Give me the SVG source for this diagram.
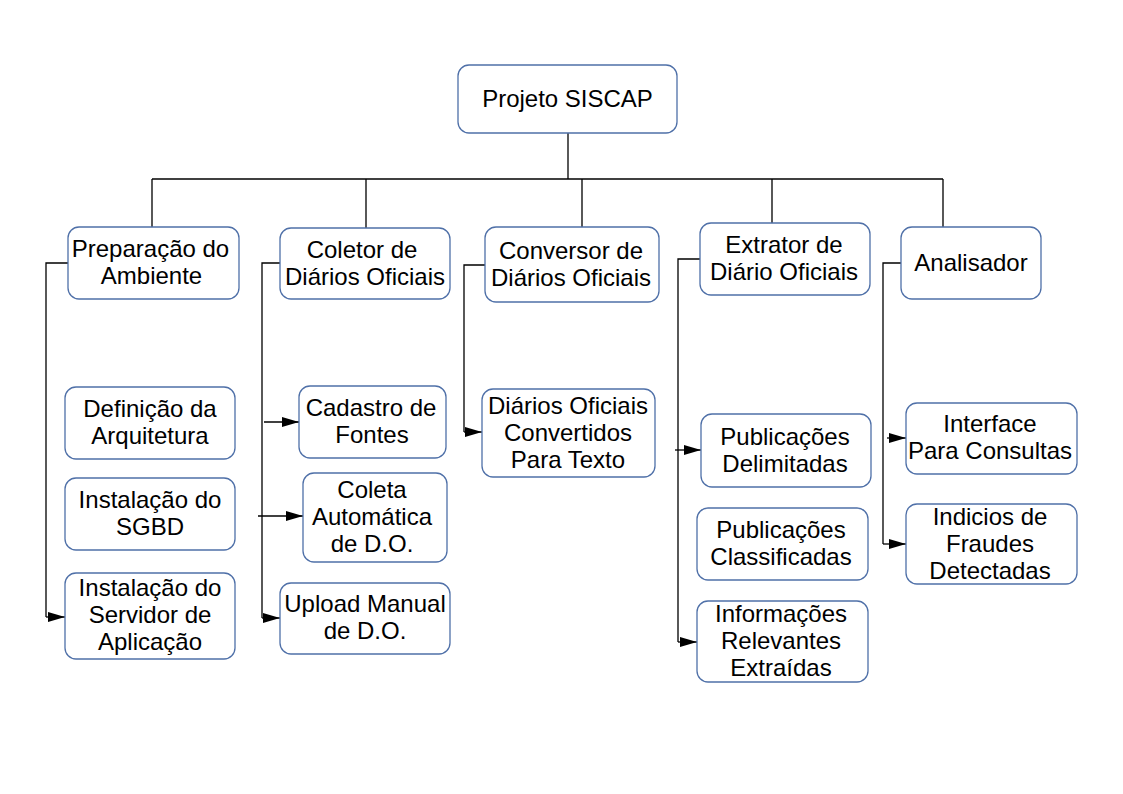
<svg xmlns="http://www.w3.org/2000/svg" width="1123" height="794" viewBox="0 0 1123 794">
<style>
.box{fill:#ffffff;stroke:#4f70a8;stroke-width:1.3}
.lbl{font-family:"Liberation Sans",Arial,sans-serif;font-size:24px;fill:#000;text-anchor:middle}
.con{fill:none;stroke:#000;stroke-width:1.3}
.arr{fill:none;stroke:#000;stroke-width:1.3;marker-end:url(#ah)}
</style>
<defs>
<marker id="ah" markerUnits="userSpaceOnUse" markerWidth="18" markerHeight="11" refX="17" refY="5" orient="auto">
<path d="M0,0 L17,5 L0,10 z" fill="#000"/>
</marker>
</defs>
<rect width="1123" height="794" fill="#fff"/>
<g id="connectors">
<path class="con" d="M568,133 V179"/>
<path class="con" d="M152,179 H943"/>
<path class="con" d="M152,179 V227 M366,179 V228 M582,179 V227 M772,179 V223 M943,179 V227"/>
<path class="con" d="M68,263 H46 V617"/>
<path class="arr" d="M46,617 H65"/>
<path class="con" d="M280,263 H262 V618"/>
<path class="arr" d="M264,422 H299"/>
<path class="arr" d="M258,516 H303"/>
<path class="arr" d="M262,618 H280"/>
<path class="con" d="M485,265 H464 V432"/>
<path class="arr" d="M464,432 H482"/>
<path class="con" d="M700,259 H678 V642"/>
<path class="arr" d="M675,450 H701"/>
<path class="arr" d="M678,642 H697"/>
<path class="con" d="M901,263 H883 V544"/>
<path class="arr" d="M887,438 H906"/>
<path class="arr" d="M883,544 H906"/>
</g>
<g id="root"><rect class="box" x="458" y="65" width="219" height="68" rx="11"/><text class="lbl" x="567.5" y="106.5">Projeto SISCAP</text></g>
<g id="preparacao"><rect class="box" x="68" y="227" width="171" height="72" rx="11"/><text class="lbl" x="150.5" y="257">Preparação do</text><text class="lbl" x="151.5" y="284">Ambiente</text></g>
<g id="coletor"><rect class="box" x="280" y="228" width="170" height="71" rx="11"/><text class="lbl" x="362" y="257.5">Coletor de</text><text class="lbl" x="365" y="284.5">Diários Oficiais</text></g>
<g id="conversor"><rect class="box" x="485" y="227" width="174" height="75" rx="11"/><text class="lbl" x="571" y="258.5">Conversor de</text><text class="lbl" x="571" y="285.5">Diários Oficiais</text></g>
<g id="extrator"><rect class="box" x="700" y="223" width="170" height="72" rx="11"/><text class="lbl" x="784" y="253">Extrator de</text><text class="lbl" x="784" y="280">Diário Oficiais</text></g>
<g id="analisador"><rect class="box" x="901" y="227" width="140" height="72" rx="11"/><text class="lbl" x="971" y="270.5">Analisador</text></g>
<g id="definicao"><rect class="box" x="65" y="387" width="170" height="72" rx="11"/><text class="lbl" x="150" y="417">Definição da</text><text class="lbl" x="150" y="444">Arquitetura</text></g>
<g id="sgbd"><rect class="box" x="65" y="478" width="170" height="72" rx="11"/><text class="lbl" x="150" y="508">Instalação do</text><text class="lbl" x="150" y="535">SGBD</text></g>
<g id="servidor"><rect class="box" x="65" y="573" width="170" height="86" rx="11"/><text class="lbl" x="150" y="596">Instalação do</text><text class="lbl" x="150" y="623">Servidor de</text><text class="lbl" x="150" y="650">Aplicação</text></g>
<g id="cadastro"><rect class="box" x="299" y="386" width="147" height="72" rx="11"/><text class="lbl" x="371" y="416">Cadastro de</text><text class="lbl" x="372" y="443">Fontes</text></g>
<g id="coleta"><rect class="box" x="303" y="473" width="144" height="89" rx="11"/><text class="lbl" x="372" y="498">Coleta</text><text class="lbl" x="372" y="525">Automática</text><text class="lbl" x="372" y="552">de D.O.</text></g>
<g id="upload"><rect class="box" x="280" y="583" width="170" height="71" rx="11"/><text class="lbl" x="365" y="612">Upload Manual</text><text class="lbl" x="365" y="639">de D.O.</text></g>
<g id="convertidos"><rect class="box" x="482" y="389" width="173" height="88" rx="11"/><text class="lbl" x="568" y="414">Diários Oficiais</text><text class="lbl" x="568" y="441">Convertidos</text><text class="lbl" x="568" y="468">Para Texto</text></g>
<g id="delimitadas"><rect class="box" x="701" y="414" width="170" height="73" rx="11"/><text class="lbl" x="785" y="444.5">Publicações</text><text class="lbl" x="785" y="471.5">Delimitadas</text></g>
<g id="classificadas"><rect class="box" x="697" y="508" width="171" height="72" rx="11"/><text class="lbl" x="781" y="538">Publicações</text><text class="lbl" x="781" y="565">Classificadas</text></g>
<g id="informacoes"><rect class="box" x="697" y="601" width="171" height="81" rx="11"/><text class="lbl" x="781" y="622">Informações</text><text class="lbl" x="781" y="649">Relevantes</text><text class="lbl" x="781" y="676">Extraídas</text></g>
<g id="interface"><rect class="box" x="906" y="403" width="171" height="71" rx="11"/><text class="lbl" x="990" y="432">Interface</text><text class="lbl" x="990" y="459">Para Consultas</text></g>
<g id="indicios"><rect class="box" x="906" y="504" width="171" height="80" rx="11"/><text class="lbl" x="990" y="524.5">Indicios de</text><text class="lbl" x="990" y="551.5">Fraudes</text><text class="lbl" x="990" y="578.5">Detectadas</text></g>
</svg>
